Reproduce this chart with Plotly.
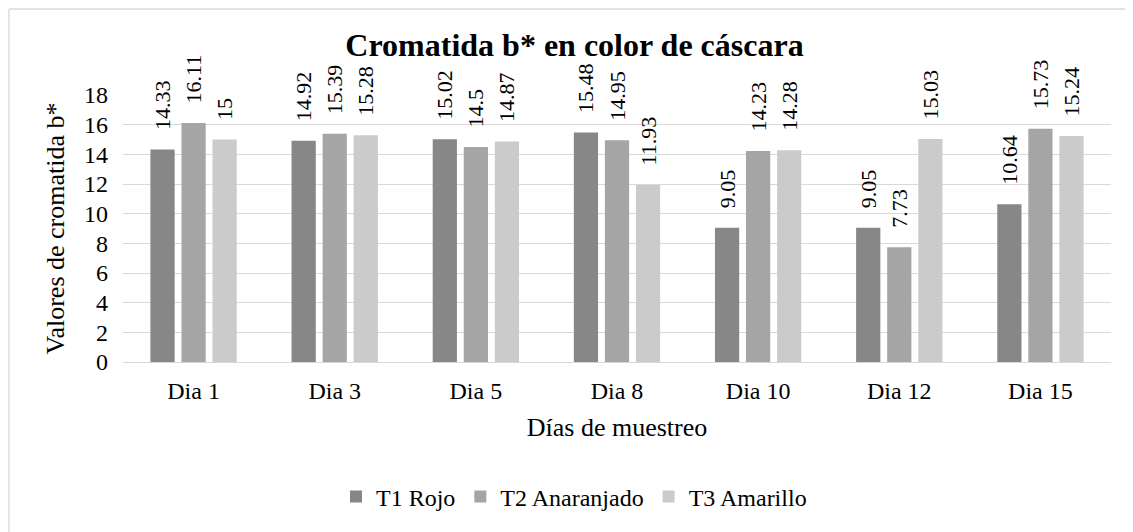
import plotly.graph_objects as go

categories = ["Dia 1", "Dia 3", "Dia 5", "Dia 8", "Dia 10", "Dia 12", "Dia 15"]
t1_rojo = [14.33, 14.92, 15.02, 15.48, 9.05, 9.05, 10.64]
t2_anaranjado = [16.11, 15.39, 14.5, 14.95, 14.23, 7.73, 15.73]
t3_amarillo = [15, 15.28, 14.87, 11.93, 14.28, 15.03, 15.24]
y_ticks = [0, 2, 4, 6, 8, 10, 12, 14, 16, 18]

series = [
    ("T1 Rojo", t1_rojo, "#878787"),
    ("T2 Anaranjado", t2_anaranjado, "#a5a5a5"),
    ("T3 Amarillo", t3_amarillo, "#cbcbcb"),
]

FONT = "Liberation Serif"
PAD = "&nbsp;" * 3

# page body adds an 8px offset; margins compensate so the plot lands where the reference has it
L, T, R, B = 115, 87, 30, 178
W, H = 1133, 532
PW, PH = W - L - R, H - T - B

fig = go.Figure()
for name, vals, col in series:
    fig.add_trace(go.Bar(
        x=categories, y=vals, name=name,
        marker=dict(color=col, line=dict(width=0)),
        text=[PAD + f"{v:g}" for v in vals],
        textposition="outside", textangle=-90, constraintext="none",
        textfont=dict(family=FONT, size=22, color="#000000"),
        cliponaxis=False,
    ))

fig.update_layout(
    width=W, height=H,
    margin=dict(l=L, r=R, t=T, b=B),
    paper_bgcolor="white", plot_bgcolor="white",
    barmode="group", bargap=0.34, bargroupgap=0.22,
    uniformtext=dict(mode=False),
    font=dict(family=FONT, size=24, color="#000000"),
    title=dict(text="<b>Cromatida b* en color de cáscara</b>", x=0.5, xanchor="center",
               y=1 - 37 / H, yanchor="middle", yref="container",
               font=dict(family=FONT, size=32, color="#000000")),
    showlegend=True,
    legend=dict(orientation="h", x=(566 - L) / PW, xanchor="center", y=-135 / PH, yanchor="middle",
                font=dict(family=FONT, size=24), itemwidth=30, traceorder="normal"),
    xaxis=dict(title=dict(text="Días de muestreo", font=dict(family=FONT, size=26), standoff=14),
               tickfont=dict(family=FONT, size=24), showgrid=False, showline=False,
               ticks="", ticklabelstandoff=12),
    yaxis=dict(title=dict(text="Valores de cromatida b*", font=dict(family=FONT, size=26), standoff=11),
               range=[0, 18], tickvals=y_ticks, tickfont=dict(family=FONT, size=24),
               showgrid=True, gridcolor="#d9d9d9", gridwidth=1.3,
               zeroline=True, zerolinecolor="#d9d9d9", zerolinewidth=1.3,
               showline=False, ticks="", ticklabelstandoff=14),
    shapes=[
        dict(type="line", xref="paper", yref="paper",
             x0=-(L - 1) / PW, x1=1.1, y0=1 + (T - 1) / PH, y1=1 + (T - 1) / PH,
             line=dict(color="#d9d9d9", width=1.3)),
        dict(type="line", xref="paper", yref="paper",
             x0=-(L - 1) / PW, x1=-(L - 1) / PW, y0=1 + (T - 1) / PH, y1=-1.0,
             line=dict(color="#d9d9d9", width=1.3)),
    ],
)

fig.write_html("out.html")
